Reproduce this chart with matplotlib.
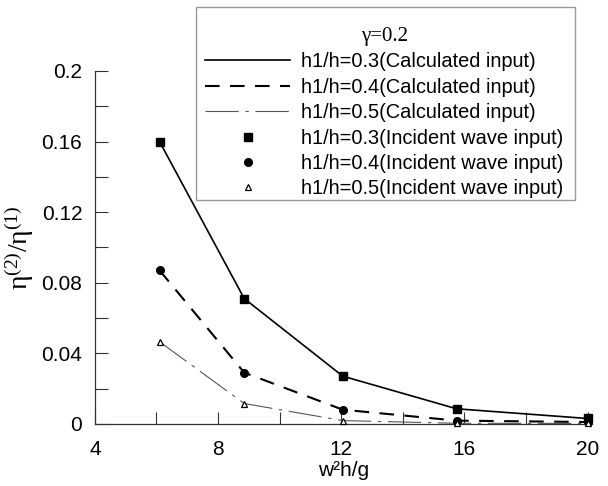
import matplotlib
matplotlib.use("Agg")
import matplotlib.pyplot as plt
from matplotlib.lines import Line2D
from matplotlib.patches import Rectangle

# data
x_vals = [6.1, 8.85, 12.05, 15.75, 20.0]
r03 = [0.160, 0.071, 0.027, 0.0085, 0.003]
r04 = [0.087, 0.029, 0.008, 0.0018, 0.001]
r05 = [0.0465, 0.0115, 0.0018, 0.0003, 0.0002]

line_labels = [
    "h1/h=0.3(Calculated input)",
    "h1/h=0.4(Calculated input)",
    "h1/h=0.5(Calculated input)",
]
marker_labels = [
    "h1/h=0.3(Incident wave input)",
    "h1/h=0.4(Incident wave input)",
    "h1/h=0.5(Incident wave input)",
]
x_ticks = [4, 8, 12, 16, 20]
x_minor = [6, 10, 14, 18]
y_ticks = [0, 0.04, 0.08, 0.12, 0.16, 0.2]
y_tick_labels = ["0", "0.04", "0.08", "0.12", "0.16", "0.2"]
y_minor = [0.02, 0.06, 0.10, 0.14, 0.18]

W, H = 608, 486

plt.rcParams["font.family"] = ["Liberation Sans", "DejaVu Sans"]
plt.rcParams["mathtext.fontset"] = "custom"
plt.rcParams["mathtext.rm"] = "Liberation Serif"
plt.rcParams["mathtext.it"] = "Liberation Serif"

fig = plt.figure(figsize=(W / 100, H / 100), dpi=100)
ax = fig.add_axes([0.156, 0.128, 0.818, 0.726])

series = [r03, r04, r05]
styles = [
    dict(color="black", lw=1.2, ls="-"),
    dict(color="black", lw=1.5, ls=(0, (7, 5))),
    dict(color="#555555", lw=0.8, ls=(0, (30, 6, 3, 6))),
]
markers = [
    dict(marker="s", ms=5.2, mfc="black", mec="black"),
    dict(marker="o", ms=5.5, mfc="black", mec="black"),
    dict(marker="^", ms=4.5, mfc="white", mec="black", mew=0.9),
]

handles = []
for ys, st, lab in zip(series, styles, line_labels):
    (h,) = ax.plot(x_vals, ys, label=lab, **st)
    handles.append(h)
for ys, mk, lab in zip(series, markers, marker_labels):
    ax.plot(x_vals, ys, ls="none", zorder=3, clip_on=False, **mk)
    handles.append(Line2D([], [], ls="none", label=lab, **mk))

ax.set_xlim(4, 20.15)
ax.set_ylim(0, 0.2)
ax.set_xticks(x_ticks)
ax.set_xticks(x_minor, minor=True)
ax.set_yticks(y_ticks)
ax.set_yticklabels(y_tick_labels)
ax.set_yticks(y_minor, minor=True)

for side in ("top", "right"):
    ax.spines[side].set_visible(False)
for side in ("left", "bottom"):
    ax.spines[side].set_color("#333333")
    ax.spines[side].set_linewidth(0.9)

ax.tick_params(axis="both", which="both", direction="in", length=9,
               width=0.8, color="#333333", labelsize=15)
ax.tick_params(axis="y", which="both", pad=9)
ax.tick_params(axis="x", which="both", pad=12)

ax.set_xlabel("w\u00b2h/g", fontsize=15, labelpad=1)
ax.set_ylabel("$\\mathrm{η}^{(2)}/\\mathrm{η}^{(1)}$", fontsize=20, labelpad=4)

# legend text without its own frame; the box (taller above the title) is drawn separately
leg = fig.legend(handles=handles, loc="upper left",
                 bbox_to_anchor=(196 / W, 1 - 18 / H), borderaxespad=0,
                 frameon=False, fontsize=14.4, labelspacing=0.32,
                 handlelength=4.25, handletextpad=0.55, borderpad=0.45,
                 numpoints=1, title="\u03b3=0.2",
                 title_fontproperties={"family": "Liberation Serif", "size": 15})
fig.add_artist(Rectangle((196 / W, 1 - 200 / H), 379 / W, 193 / H,
                         transform=fig.transFigure, fill=False,
                         edgecolor="#999999", linewidth=1.0))

fig.savefig("out.png", dpi=100)
